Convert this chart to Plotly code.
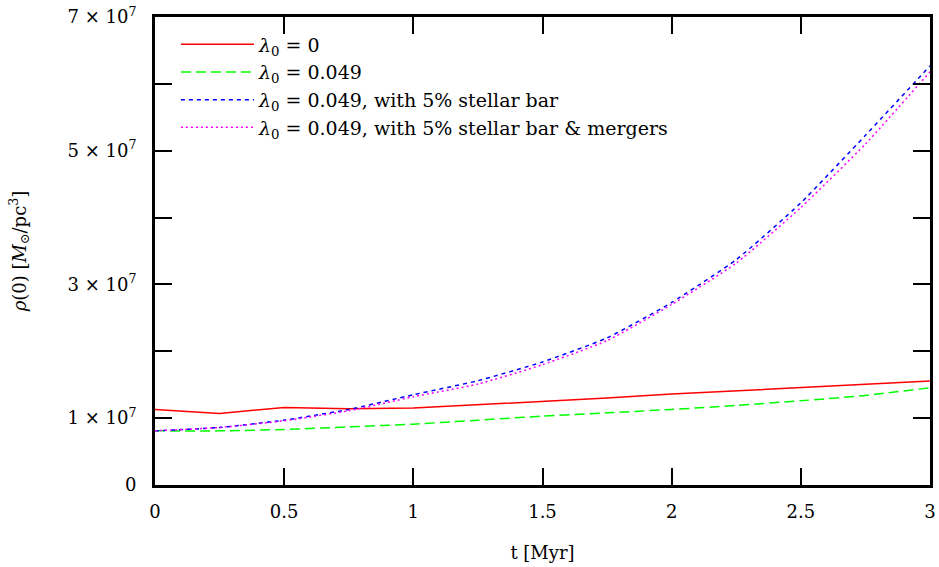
import plotly.graph_objects as go

# time [Myr]
t = [0, 0.25, 0.5, 0.75, 1.0, 1.25, 1.5, 1.75, 2.0, 2.25, 2.5, 2.75, 3.0]

# central density rho(0) in units of 1e7 M_sun/pc^3
rho_lam0 = [1.13, 1.07, 1.16, 1.14, 1.15, 1.20, 1.24, 1.30, 1.36, 1.41, 1.455, 1.50, 1.555]
rho_lam049 = [0.81, 0.81, 0.83, 0.87, 0.91, 0.97, 1.03, 1.08, 1.13, 1.19, 1.26, 1.34, 1.455]
rho_bar = [0.81, 0.86, 0.97, 1.13, 1.35, 1.56, 1.84, 2.20, 2.73, 3.37, 4.22, 5.23, 6.27]
rho_bar_merg = [0.81, 0.86, 0.96, 1.11, 1.32, 1.51, 1.80, 2.16, 2.70, 3.32, 4.15, 5.10, 6.18]

scale = 1e7

names = [
    "<i>λ</i><sub>0</sub> = 0",
    "<i>λ</i><sub>0</sub> = 0.049",
    "<i>λ</i><sub>0</sub> = 0.049, with 5% stellar bar",
    "<i>λ</i><sub>0</sub> = 0.049, with 5% stellar bar &amp; mergers",
]
series = [rho_lam0, rho_lam049, rho_bar, rho_bar_merg]
colors = ["#ff0000", "#00ff00", "#0000ff", "#ff00ff"]
dashes = ["solid", "10px,5px", "4px,4px", "2px,3px"]
shapes = ["linear", "spline", "spline", "spline"]

ytickvals = [0, 1, 2, 3, 4, 5, 6, 7]
yticktext = ["0", "1 × 10<sup>7</sup>", "", "3 × 10<sup>7</sup>", "",
             "5 × 10<sup>7</sup>", "", "7 × 10<sup>7</sup>"]
xtickvals = [0, 0.5, 1, 1.5, 2, 2.5, 3]
xticktext = ["0", "0.5", "1", "1.5", "2", "2.5", "3"]

FONT = "DejaVu Serif"
FS = 18
LFS = 19

fig = go.Figure()
for nm, s, c, d, sh in zip(names, series, colors, dashes, shapes):
    fig.add_trace(go.Scatter(
        x=t, y=[v * scale for v in s], mode="lines", name=nm,
        line=dict(color=c, width=1.5, dash=d, shape=sh, smoothing=0.5),
    ))

fig.update_layout(
    width=939, height=567,
    margin=dict(l=155, r=9, t=17, b=82, autoexpand=False),
    paper_bgcolor="white", plot_bgcolor="white",
    font=dict(family=FONT, size=FS, color="black"),
    showlegend=True,
    legend=dict(x=0.027, y=0.982, xanchor="left", yanchor="top",
                bgcolor="rgba(0,0,0,0)", font=dict(family=FONT, size=LFS),
                itemwidth=73, tracegroupgap=0),
)
fig.update_xaxes(
    range=[0, 3], tickvals=xtickvals, ticktext=xticktext,
    ticks="inside", ticklen=17, tickwidth=2, tickcolor="black",
    showline=True, linewidth=3, linecolor="black", mirror="ticks",
    showgrid=False, zeroline=False, automargin=False, ticklabelstandoff=8,
    title=dict(text="t [Myr]", font=dict(family=FONT, size=FS), standoff=26),
    tickfont=dict(family=FONT, size=FS),
)
fig.update_yaxes(
    range=[0, 7 * scale], tickvals=[v * scale for v in ytickvals], ticktext=yticktext,
    ticks="inside", ticklen=17, tickwidth=2, tickcolor="black",
    showline=True, linewidth=3, linecolor="black", mirror="ticks",
    showgrid=False, zeroline=False, ticklabelstandoff=12, automargin=False,
    title=dict(text="<i>ρ</i>(0) [<i>M</i><sub>⊙</sub>/pc<sup>3</sup>]",
               font=dict(family=FONT, size=FS), standoff=37),
    tickfont=dict(family=FONT, size=FS),
)

fig.write_html("out.html", config={"displayModeBar": False},
               post_script="document.body.style.margin='0';")
